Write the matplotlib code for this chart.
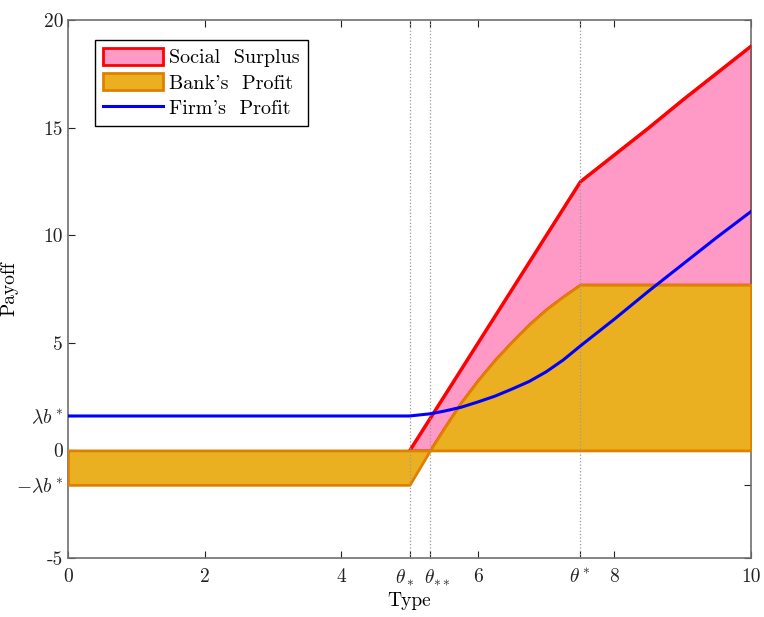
import matplotlib
matplotlib.use('Agg')
import matplotlib.pyplot as plt
import matplotlib.transforms as mtransforms
import numpy as np
from matplotlib.patches import Patch
from matplotlib.lines import Line2D

# valores
lam_b = 1.6
theta_low = 5.0
theta_mid = 5.3
theta_star = 7.5

tipo = [0, 5.0, 5.3, 5.5, 5.75, 6.0, 6.25, 6.5, 6.75, 7.0, 7.25, 7.5, 8.0, 8.5, 9.0, 9.5, 10.0]
firma = [1.6, 1.6, 1.7, 1.82, 2.0, 2.25, 2.52, 2.85, 3.2, 3.65, 4.2, 4.85, 6.1, 7.4, 8.65, 9.9, 11.1]
banco = [-1.6, -1.6, 0.0, 1.0, 2.2, 3.25, 4.2, 5.05, 5.85, 6.55, 7.15, 7.7, 7.7, 7.7, 7.7, 7.7, 7.7]
excedente = [np.nan, 0.0, 1.5, 2.5, 3.75, 5.0, 6.25, 7.5, 8.75, 10.0, 11.25, 12.5, 13.75, 15.0, 16.3, 17.55, 18.8]

xticks = [0, 2, 4, theta_low, theta_mid, 6, theta_star, 8, 10]
xlabels = ['0', '2', '4', r'$\theta_*$', r'$\theta_{**}$', '6', r'$\theta^*$', '8', '10']
yticks = [-5, -lam_b, 0, lam_b, 5, 10, 15, 20]
ylabels = ['-5', r'$-\lambda b^*$', '0', r'$\lambda b^*$', '5', '10', '15', '20']

plt.rcParams['font.family'] = ['cmr10', 'DejaVu Serif']
plt.rcParams['mathtext.fontset'] = 'cm'
plt.rcParams['font.size'] = 14

x = np.array(tipo)
b = np.array(banco)
s = np.array(excedente)
f = np.array(firma)

fig = plt.figure(figsize=(7.64, 6.17), dpi=100)
ax = fig.add_axes([0.089, 0.0956, 0.894, 0.872])

rosa = '#ff99c6'
rojo = '#ff0000'
naranja = '#ebb022'
borde_naranja = '#e08000'

m = ~np.isnan(s)
ax.fill_between(x[m], np.maximum(b[m], 0), s[m], facecolor=rosa, edgecolor=rojo, linewidth=2, zorder=2)
ax.plot(x[m], s[m], color=rojo, linewidth=2, zorder=3)
ax.fill_between(x, 0, b, facecolor=naranja, edgecolor=borde_naranja, linewidth=2, zorder=4)
for t in [theta_low, theta_mid, theta_star]:
    ax.axvline(t, color='#999999', linestyle=':', linewidth=0.9, zorder=5)
ax.plot(x, f, color='#0000ff', linewidth=2.2, zorder=6)

ax.set_xlim(0, 10)
ax.set_ylim(-5, 20)
ax.set_xticks(xticks)
ax.set_xticklabels(xlabels)
ax.set_yticks(yticks)
ax.set_yticklabels(ylabels)
ax.tick_params(direction='in', top=True, right=True, length=5, labelsize=14, colors='#222222')
ax.tick_params(axis='x', pad=7)
for sp in ax.spines.values():
    sp.set_color('#707070')
    sp.set_linewidth(1.2)

# separar un poco las etiquetas theta_* y theta_**
labs = ax.get_xticklabels()
for i, dx in [(3, -5), (4, 7)]:
    labs[i].set_transform(labs[i].get_transform() +
                          mtransforms.ScaledTranslation(dx / 100, 0, fig.dpi_scale_trans))

ax.set_xlabel('Type', labelpad=3)
ax.set_ylabel('Payoff')
ax.yaxis.set_label_coords(-0.072, 0.5)

handles = [
    Patch(facecolor=rosa, edgecolor=rojo, linewidth=2),
    Patch(facecolor=naranja, edgecolor=borde_naranja, linewidth=2),
    Line2D([0], [0], color='#0000ff', linewidth=2.2),
]
leg = ax.legend(handles, ['Social  Surplus', "Bank's  Profit", "Firm's  Profit"],
                loc='upper left', bbox_to_anchor=(0.0395, 0.963), fontsize=14.5,
                fancybox=False, framealpha=1, edgecolor='black',
                handlelength=3.0, handleheight=0.9, labelspacing=0.3,
                handletextpad=0.3, borderpad=0.4, borderaxespad=0)
leg.get_frame().set_linewidth(1.0)

fig.savefig('out.png', dpi=100)
